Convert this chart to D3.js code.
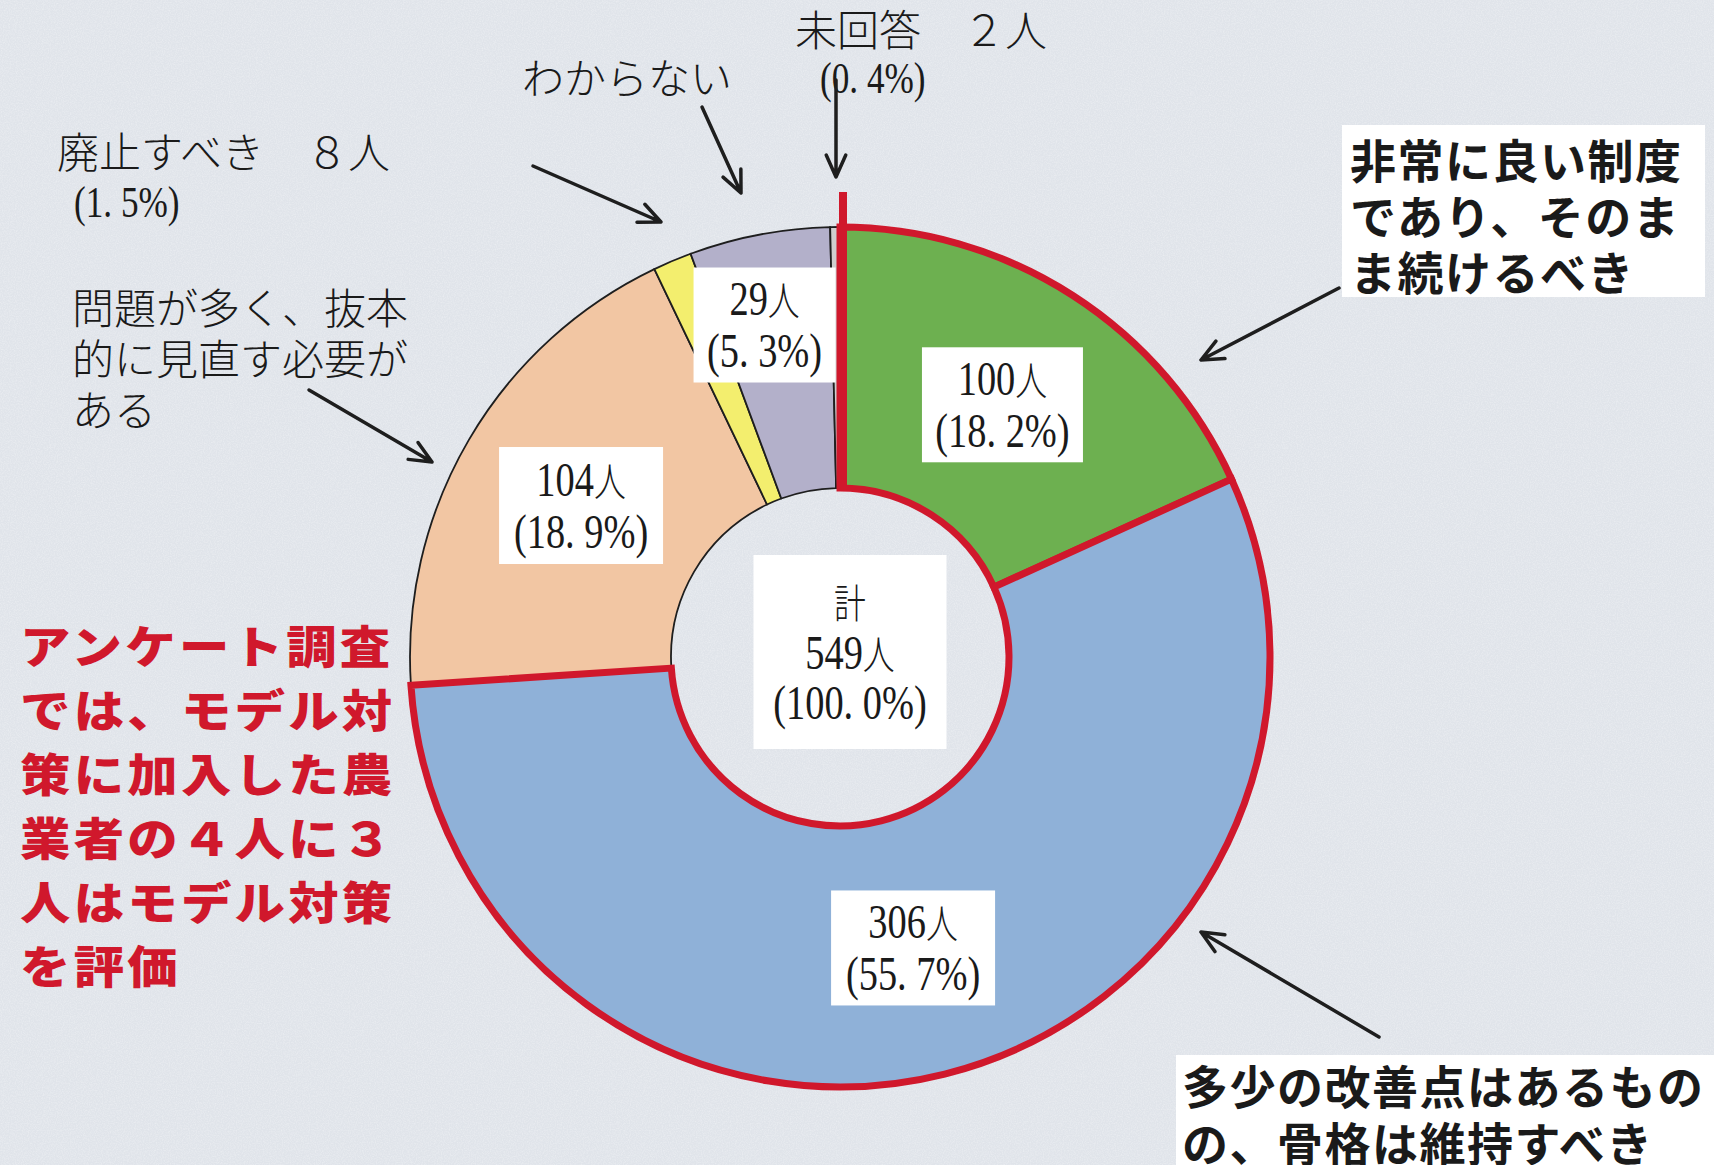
<!DOCTYPE html>
<html>
<head>
<meta charset="utf-8">
<script src="https://cdn.jsdelivr.net/npm/d3@7"></script>
<style>
  body { margin: 0; background: #e3e7ed; }
  svg { display: block; }
</style>
</head>
<body>
<div id="chart"></div>
<script>
// survey answers, clockwise from 12 o'clock
const categories = [
  "非常に良い制度であり、そのまま続けるべき",
  "多少の改善点はあるものの、骨格は維持すべき",
  "問題が多く、抜本的に見直す必要がある",
  "廃止すべき",
  "わからない",
  "未回答"
];
const counts = [100, 306, 104, 8, 29, 2];
const sliceColors = ["#6db050", "#8fb1d8", "#f2c6a3", "#f3ee6e", "#b3b0ca", "#cfcfcf"];
const outlined = [true, true, false, false, false, false];   // red border group

// callout text per slice (line breaks as in the original)
const calloutLines = [
  ["非常に良い制度", "であり、そのま", "ま続けるべき"],
  ["多少の改善点はあるもの", "の、骨格は維持すべき"],
  ["問題が多く、抜本", "的に見直す必要が", "ある"],
  ["廃止すべき"],
  ["わからない"],
  ["未回答"]
];
const countOutside = [false, false, false, true, false, true];
const totalWord = "計";
const noteLines = [
  "アンケート調査",
  "では、モデル対",
  "策に加入した農",
  "業者の４人に３",
  "人はモデル対策",
  "を評価"
];

// ---- layout ----
const W = 1714, H = 1165;
const cx = 840, cy = 657, R = 430, r0 = 169;
const RED = "#d0182c";

// box labels on the ring (null = no box)
const boxLayout = [
  { r: 300, dx: 0, w: 161, h: 115 },
  { r: 300, dx: 0, w: 164, h: 115 },
  { r: 300, dx: 0, w: 164, h: 117 },
  null,
  { r: 338, dx: -12, w: 142, h: 115 },
  null
];

// outside callouts: text anchor, style, arrow
const calloutLayout = [
  { x: 1350, y: 178, lh: 56, style: "bold", box: [1342, 125, 363, 172], arrow: [[1339, 288], [1201, 360]] },
  { x: 1182, y: 1104, lh: 57, style: "bold", box: [1176, 1055, 538, 110], arrow: [[1379, 1037], [1201, 932]] },
  { x: 72, y: 324, lh: 51, style: "light", arrow: [[309, 390], [432, 462]] },
  { x: 57, y: 168, lh: 50, style: "light", pct: [74, 217], arrow: [[533, 166], [661, 222]] },
  { x: 522, y: 94, lh: 50, style: "light", arrow: [[702, 107], [741, 193]] },
  { x: 795, y: 46, lh: 50, style: "light", pct: [820, 93], arrow: [[836, 80], [836, 177]] }
];

const total = d3.sum(counts);
const pctFmt = d3.format(".1f");
const pctText = v => "(" + pctFmt(v).replace(".", ". ") + "%)";
const fullWidth = n => String(n).replace(/[0-9]/g, c => String.fromCharCode(c.charCodeAt(0) + 0xFEE0));

const svg = d3.select("#chart").append("svg")
  .attr("width", W)
  .attr("height", H);

// scanned-paper look
const defs = svg.append("defs");
const grain = defs.append("filter").attr("id", "grain")
  .attr("x", 0).attr("y", 0).attr("width", "100%").attr("height", "100%");
grain.append("feTurbulence")
  .attr("type", "fractalNoise")
  .attr("baseFrequency", 0.85)
  .attr("numOctaves", 2)
  .attr("seed", 3);
grain.append("feColorMatrix")
  .attr("type", "matrix")
  .attr("values", "0 0 0 0 1  0 0 0 0 1  0 0 0 0 1  1.2 0 0 0 -0.45");

svg.append("rect")
  .attr("width", W)
  .attr("height", H)
  .attr("fill", "#e0e4ea");
svg.append("rect")
  .attr("width", W)
  .attr("height", H)
  .attr("filter", "url(#grain)")
  .attr("opacity", 0.5);

const data = categories.map((name, i) => ({
  name, count: counts[i], color: sliceColors[i], red: outlined[i], i
}));

const pie = d3.pie().sort(null).value(d => d.count);
const arcs = pie(data);
const arc = d3.arc().innerRadius(r0).outerRadius(R);

const g = svg.append("g").attr("transform", `translate(${cx},${cy})`);

g.selectAll("path.plain")
  .data(arcs.filter(d => !d.data.red))
  .join("path")
  .attr("class", "plain")
  .attr("d", arc)
  .attr("fill", d => d.data.color)
  .attr("stroke", "#1e1e1e")
  .attr("stroke-width", 1.8);

g.selectAll("path.red")
  .data(arcs.filter(d => d.data.red))
  .join("path")
  .attr("class", "red")
  .attr("d", arc)
  .attr("fill", d => d.data.color)
  .attr("stroke", RED)
  .attr("stroke-width", 7)
  .attr("stroke-linejoin", "miter");

// red tick at 12 o'clock
g.append("line")
  .attr("x1", 3).attr("x2", 3)
  .attr("y1", -R - 35).attr("y2", -r0)
  .attr("stroke", RED)
  .attr("stroke-width", 8);

// mixed latin / CJK text in a mincho-like look
function minchoText(sel, str, size) {
  const runs = str.match(/[\x00-\x7F]+|[^\x00-\x7F]+/g) || [];
  runs.forEach(t => {
    const latin = /[\x00-\x7F]/.test(t[0]);
    sel.append("tspan")
      .attr("font-family", latin ? "'Liberation Serif', serif" : "'Noto Sans CJK JP', sans-serif")
      .attr("font-weight", latin ? 400 : 300)
      .attr("font-size", latin ? size : size * 0.83)
      .text(t);
  });
}

function labelBox(x, y, w, h, lines, offsets) {
  const b = svg.append("g").attr("transform", `translate(${x},${y})`);
  b.append("rect")
    .attr("x", -w / 2).attr("y", -h / 2)
    .attr("width", w).attr("height", h)
    .attr("fill", "#fff");
  const tg = b.append("g").attr("transform", "scale(0.8,1)");
  lines.forEach((s, k) => {
    const t = tg.append("text")
      .attr("y", offsets[k])
      .attr("text-anchor", "middle")
      .attr("fill", "#1a1a1a");
    minchoText(t, s, 48);
  });
}

// ring labels
arcs.forEach(d => {
  const L = boxLayout[d.data.i];
  if (!L) return;
  const [px, py] = d3.arc().innerRadius(L.r).outerRadius(L.r).centroid(d);
  labelBox(cx + px + L.dx, cy + py, L.w, L.h,
    [d.data.count + "人", pctText(d.data.count / total * 100)],
    [-10, 42]);
});

// total in the hole
labelBox(cx + 10, cy - 5, 193, 194,
  [totalWord, total + "人", pctText(100)],
  [-34, 17, 67]);

// arrows
function arrowPath([x1, y1], [x2, y2], len = 24, ang = 0.42) {
  const a = Math.atan2(y2 - y1, x2 - x1);
  const p1 = [x2 - len * Math.cos(a - ang), y2 - len * Math.sin(a - ang)];
  const p2 = [x2 - len * Math.cos(a + ang), y2 - len * Math.sin(a + ang)];
  return `M${x1},${y1}L${x2},${y2}M${p1}L${x2},${y2}L${p2}`;
}

// callouts
data.forEach(d => {
  const L = calloutLayout[d.i];
  if (L.box) {
    svg.append("rect")
      .attr("x", L.box[0]).attr("y", L.box[1])
      .attr("width", L.box[2]).attr("height", L.box[3])
      .attr("fill", "#fff");
  }
  const lines = calloutLines[d.i].slice();
  if (countOutside[d.i]) lines[0] = lines[0] + "　" + fullWidth(d.count) + "人";
  const t = svg.append("text")
    .attr("font-family", "'Noto Sans CJK JP', sans-serif")
    .attr("fill", "#1a1a1a");
  if (L.style === "bold") {
    t.attr("font-size", 46).attr("font-weight", 700).attr("letter-spacing", 1.5);
  } else {
    t.attr("font-size", 42).attr("font-weight", 300);
  }
  lines.forEach((s, k) => {
    t.append("tspan").attr("x", L.x).attr("y", L.y + k * L.lh).text(s);
  });
  if (L.pct) {
    const pt = svg.append("text")
      .attr("transform", `translate(${L.pct[0]},${L.pct[1]}) scale(0.8,1)`)
      .attr("fill", "#1a1a1a");
    minchoText(pt, pctText(d.count / total * 100), 44);
  }
  svg.append("path")
    .attr("d", arrowPath(L.arrow[0], L.arrow[1]))
    .attr("fill", "none")
    .attr("stroke", "#1e1e1e")
    .attr("stroke-width", 3.5)
    .attr("stroke-linecap", "round")
    .attr("stroke-linejoin", "round");
});

// red summary note (wide heavy gothic, stretched a little)
const note = svg.append("g")
  .attr("transform", "translate(20,0) scale(1.12,1)")
  .append("text")
  .attr("font-family", "'Noto Sans CJK JP', sans-serif")
  .attr("font-size", 45)
  .attr("font-weight", 900)
  .attr("letter-spacing", 2.9)
  .attr("fill", RED);
noteLines.forEach((s, k) => {
  note.append("tspan").attr("x", 0).attr("y", 664 + k * 64).text(s);
});
</script>
</body>
</html>
